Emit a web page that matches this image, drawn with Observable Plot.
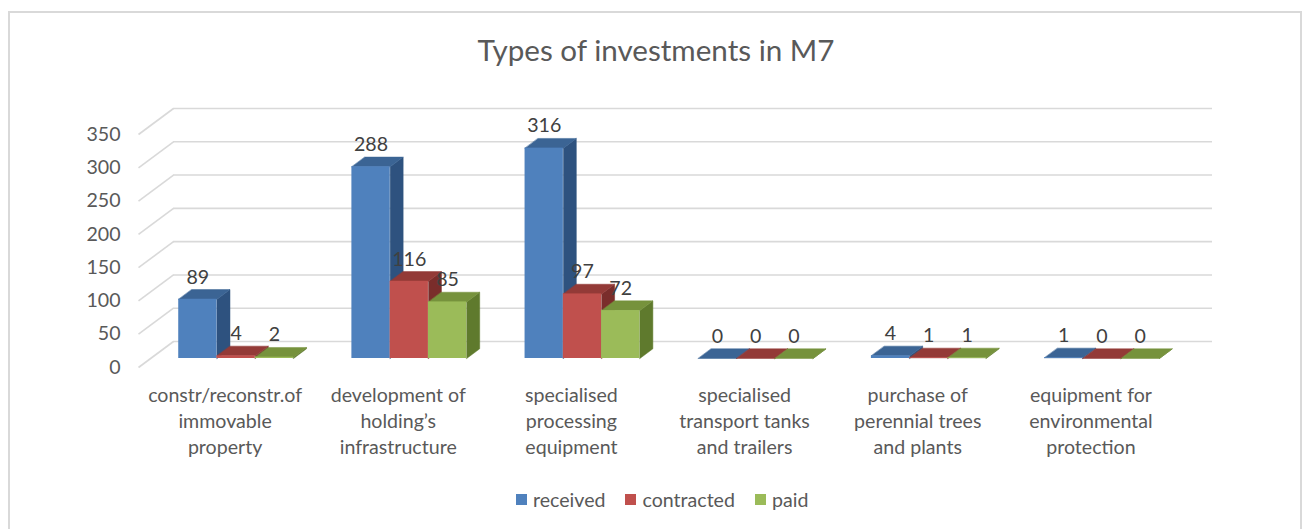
<!DOCTYPE html>
<html><head><meta charset="utf-8">
<script src="https://cdn.jsdelivr.net/npm/d3@7"></script>
<script src="https://cdn.jsdelivr.net/npm/@observablehq/plot@0.6"></script>
<style>
body{margin:0;background:#fff;font-family:Lato,"Liberation Sans",sans-serif;}
#frame{position:absolute;left:8px;top:11px;width:1294px;height:530px;border:2px solid #d9d9d9;box-sizing:border-box;}
#title{position:absolute;left:0;top:32px;width:1312px;text-align:center;font-size:29.6px;color:#595959;}
#chart{position:absolute;left:0;top:0;}
#legend{position:absolute;top:488px;left:516px;display:flex;align-items:center;font-size:19.6px;color:#595959;}
#legend .sw{display:inline-block;width:11px;height:11px;margin-right:6px;}
#legend .it{display:flex;align-items:center;margin-right:20px;}
</style></head>
<body>
<div id="frame"></div>
<div id="chart"></div>
<div id="title">Types of investments in M7</div>
<div id="legend"></div>
<script>
const categories = [
  "constr/reconstr.of\nimmovable\nproperty",
  "development of\nholding’s\ninfrastructure",
  "specialised\nprocessing\nequipment",
  "specialised\ntransport tanks\nand trailers",
  "purchase of\nperennial trees\nand plants",
  "equipment for\nenvironmental\nprotection"
];
const seriesNames = ["received", "contracted", "paid"];
const received   = [89, 288, 316, 0, 4, 1];
const contracted = [4, 116, 97, 0, 1, 0];
const paid       = [2, 85, 72, 0, 1, 0];
const yTicks = [0, 50, 100, 150, 200, 250, 300, 350];

const frontColors = ["#4f81bd", "#c0504d", "#9bbb59"];
const topColors   = ["#3b6494", "#933a37", "#76923c"];
const sideColors  = ["#2e527f", "#7a2d2b", "#5f7a2d"];

const FONT = "Lato, 'Liberation Sans', sans-serif";
const W = 1308, H = 480;
const X0 = 138, X1 = 1177, Y0 = 367, Y1 = 134;
const kx = (X1 - X0) / categories.length;   // px per category
const ky = (Y0 - Y1) / 350;                  // px per unit
const floorDX = 35 / kx, floorDY = 26 / ky;  // wall depth in data units
const barOffX = 12, barOffY = 9;             // bar plane offset in px
const depthX = 13 / kx, depthY = 9.7 / ky;   // bar depth in data units
const gap = 0.163, bw = 0.221;

const values = [received, contracted, paid];
const bars = [];
values.forEach((vals, si) => vals.forEach((v, ci) => {
  bars.push({ci, si, v, x1: ci + gap + si * bw, x2: ci + gap + (si + 1) * bw});
}));
const sides = [], tops = [];
bars.forEach((b, i) => {
  const s = [[b.x2, 0], [b.x2 + depthX, depthY], [b.x2 + depthX, b.v + depthY], [b.x2, b.v]];
  s.forEach(([x, y]) => sides.push({id: i, x, y, c: sideColors[b.si]}));
  const t = [[b.x1, b.v], [b.x2, b.v], [b.x2 + depthX, b.v + depthY], [b.x1 + depthX, b.v + depthY]];
  t.forEach(([x, y]) => tops.push({id: i, x, y, c: topColors[b.si]}));
});

const grid = {stroke: "#d9d9d9", strokeWidth: 1.6};
const plot = Plot.plot({
  width: W, height: H,
  marginLeft: X0, marginRight: W - X1, marginTop: Y1, marginBottom: H - Y0,
  x: {type: "linear", domain: [0, categories.length], axis: null},
  y: {domain: [0, 350], axis: null},
  color: {type: "identity"},
  style: {fontFamily: FONT, background: "transparent", overflow: "visible"},
  marks: [
    Plot.link(yTicks, {x1: 0, x2: floorDX, y1: d => d, y2: d => d + floorDY, ...grid}),
    Plot.ruleY(yTicks, {x1: floorDX, x2: categories.length + floorDX, y: d => d + floorDY, ...grid}),
    Plot.text(yTicks, {x: 0, y: d => d, text: d => String(d), textAnchor: "end", dx: -18, fontSize: 19.6, fill: "#595959"}),
    Plot.line(sides, {x: "x", y: "y", z: "id", fill: "c", stroke: "c", strokeWidth: 0.5, curve: "linear-closed", dx: barOffX, dy: -barOffY}),
    Plot.line(tops, {x: "x", y: "y", z: "id", fill: "c", stroke: "c", strokeWidth: 0.5, curve: "linear-closed", dx: barOffX, dy: -barOffY}),
    Plot.rect(bars, {x1: "x1", x2: "x2", y1: 0, y2: "v", fill: d => frontColors[d.si], dx: barOffX, dy: -barOffY}),
    Plot.text(bars, {x: d => (d.x1 + d.x2) / 2, y: "v", text: d => String(d.v), dx: barOffX, dy: -barOffY - 22, fontSize: 19.6, fill: "#404040"}),
    Plot.text(categories, {x: (d, i) => i + 0.5, y: 0, text: d => d, dy: 52, lineAnchor: "middle", lineHeight: 1.32, fontSize: 19.6, fill: "#595959"})
  ]
});
document.getElementById("chart").appendChild(plot);

const legend = document.getElementById("legend");
seriesNames.forEach((s, i) => {
  const it = document.createElement("div"); it.className = "it";
  const sw = document.createElement("span"); sw.className = "sw"; sw.style.background = frontColors[i];
  it.appendChild(sw); it.appendChild(document.createTextNode(s));
  legend.appendChild(it);
});
</script>
</body></html>
